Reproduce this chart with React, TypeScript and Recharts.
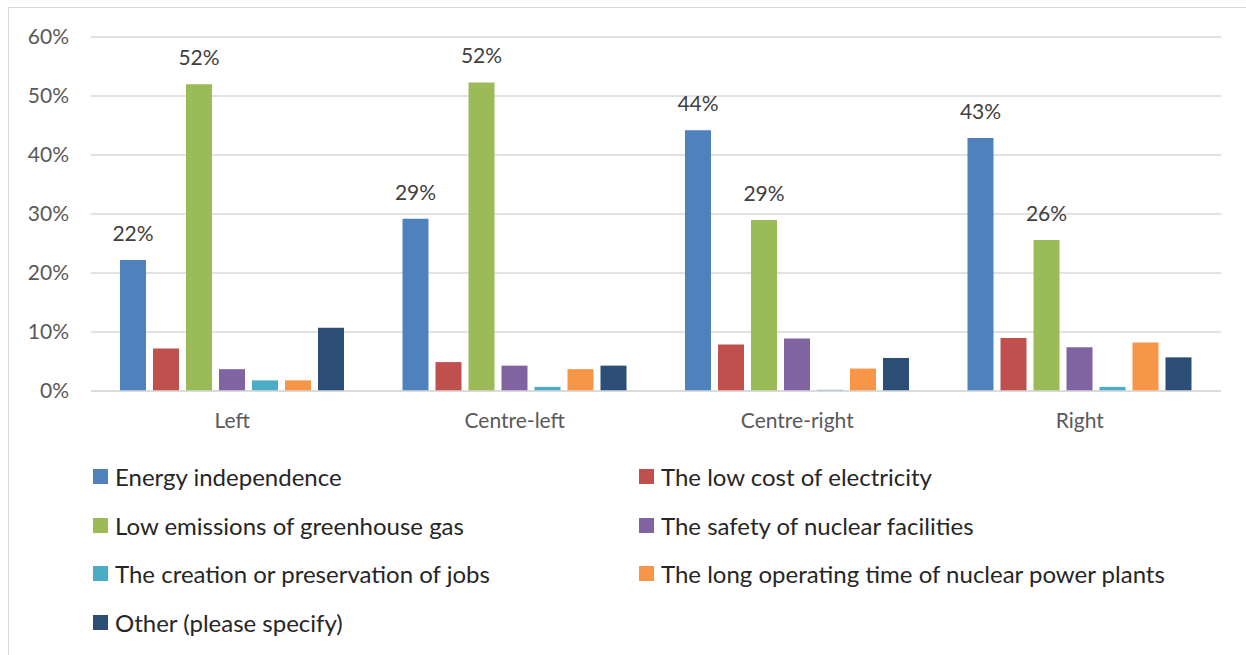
import { Bar, BarChart, CartesianGrid, LabelList, Legend, XAxis, YAxis } from 'recharts';

const groups = ['Left', 'Centre-left', 'Centre-right', 'Right'];

const energyIndependence = [22.2, 29.2, 44.2, 42.9];
const lowCost = [7.2, 4.9, 7.9, 9.0];
const lowEmissions = [52.0, 52.3, 29.0, 25.6];
const safety = [3.7, 4.3, 8.9, 7.4];
const jobs = [1.8, 0.7, 0.2, 0.7];
const operatingTime = [1.8, 3.7, 3.8, 8.2];
const other = [10.7, 4.3, 5.6, 5.7];

const yTicks = [0, 10, 20, 30, 40, 50, 60];

const series = [
  { key: 'energy', name: 'Energy independence', color: '#4F81BD', values: energyIndependence, label: true },
  { key: 'cost', name: 'The low cost of electricity', color: '#C0504D', values: lowCost, label: false },
  { key: 'emissions', name: 'Low emissions of greenhouse gas', color: '#9BBB59', values: lowEmissions, label: true },
  { key: 'safety', name: 'The safety of nuclear facilities', color: '#8064A2', values: safety, label: false },
  { key: 'jobs', name: 'The creation or preservation of jobs', color: '#4BACC6', values: jobs, label: false },
  { key: 'operating', name: 'The long operating time of nuclear power plants', color: '#F79646', values: operatingTime, label: false },
  { key: 'other', name: 'Other (please specify)', color: '#2C4D75', values: other, label: false },
];

const data = groups.map((g, i) => {
  const row: Record<string, string | number> = { group: g };
  series.forEach((s) => {
    row[s.key] = s.values[i];
  });
  return row;
});

const FONT = 'Lato, "Open Sans", sans-serif';

function LegendGrid() {
  return (
    <div
      style={{
        display: 'grid',
        gridTemplateColumns: '546px 546px',
        paddingLeft: 84,
        paddingTop: 21,
        fontFamily: FONT,
        fontSize: 24,
        color: '#262626',
      }}
    >
      {series.map((s) => (
        <div key={s.key} style={{ display: 'flex', alignItems: 'center', height: 48.7, whiteSpace: 'nowrap' }}>
          <span style={{ width: 15, height: 15, background: s.color, marginRight: 7, display: 'inline-block', flex: 'none' }} />
          <span>{s.name}</span>
        </div>
      ))}
    </div>
  );
}

export default function App() {
  return (
    <div
      style={{
        position: 'fixed',
        left: 8,
        top: 7,
        width: 1250,
        height: 660,
        border: '1px solid #D9D9D9',
        background: '#fff',
      }}
    >
      <BarChart
        width={1250}
        height={650}
        data={data}
        margin={{ top: 29, right: 38, left: 22, bottom: 7 }}
        barCategoryGap={29}
        barGap={7}
      >
        <CartesianGrid vertical={false} stroke="#D9D9D9" strokeWidth={1.5} />
        <XAxis
          dataKey="group"
          height={40}
          axisLine={{ stroke: '#D9D9D9', strokeWidth: 1.5 }}
          tickLine={false}
          tickMargin={16}
          tick={{ fill: '#595959', fontSize: 21, fontFamily: FONT }}
        />
        <YAxis
          width={60}
          domain={[0, 60]}
          ticks={yTicks}
          axisLine={false}
          tickLine={false}
          tickMargin={16}
          tickFormatter={(v) => `${v}%`}
          tick={{ fill: '#595959', fontSize: 21, fontFamily: FONT }}
        />
        <Legend verticalAlign="bottom" height={220} content={<LegendGrid />} wrapperStyle={{ left: 0, width: 1250 }} />
        {series.map((s) => (
          <Bar key={s.key} dataKey={s.key} name={s.name} fill={s.color} isAnimationActive={false}>
            {s.label && (
              <LabelList
                dataKey={s.key}
                position="top"
                offset={19}
                formatter={(v: number) => `${Math.round(v)}%`}
                style={{ fill: '#404040', fontSize: 21, fontFamily: FONT }}
              />
            )}
          </Bar>
        ))}
      </BarChart>
    </div>
  );
}
